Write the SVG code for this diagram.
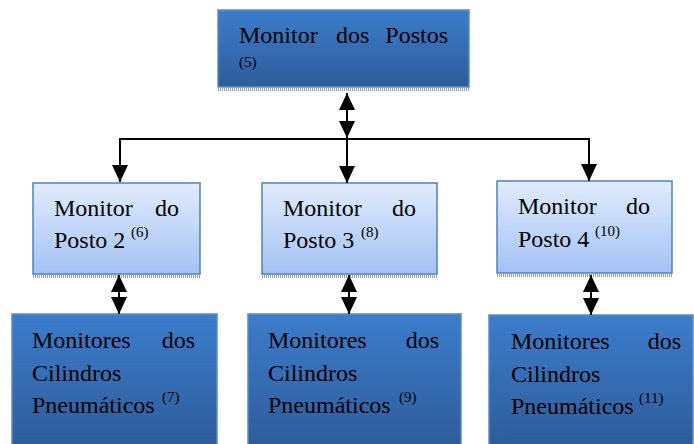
<svg xmlns="http://www.w3.org/2000/svg" width="694" height="444" viewBox="0 0 694 444" font-family="'Liberation Serif', 'DejaVu Serif', serif">
<defs>
<linearGradient id="dark" x1="0" y1="0" x2="0" y2="1">
<stop offset="0" stop-color="#3C7DCC"/>
<stop offset="1" stop-color="#2E5C9A"/>
</linearGradient>
<linearGradient id="light" x1="0" y1="0" x2="0" y2="1">
<stop offset="0" stop-color="#E1ECFD"/>
<stop offset="1" stop-color="#A3C2F4"/>
</linearGradient>
<marker id="ah" markerUnits="userSpaceOnUse" markerWidth="17" markerHeight="16" refX="17" refY="8" orient="auto-start-reverse" viewBox="0 0 17 16">
<path d="M0,0 L17,8 L0,16 z" fill="#000"/>
</marker>
</defs>
<style>
.dk{fill:url(#dark);stroke:#5A8CCB;stroke-width:1.5}
.lt{fill:url(#light);stroke:#4F81BD;stroke-width:1.5}
.sh{stroke:#A0A0A0;stroke-width:3;stroke-dasharray:1 1}
.t{font-family:'Liberation Serif','DejaVu Serif',serif;font-size:24px;fill:#000}
.sup{font-family:'Liberation Serif','DejaVu Serif',serif;font-size:15px;fill:#000}
.c{fill:none;stroke:#000;stroke-width:2}
.d{marker-start:url(#ah);marker-end:url(#ah)}
.e{marker-end:url(#ah)}
</style>
<g id="n5">
<line class="sh" x1="218" y1="89.5" x2="469" y2="89.5"/>
<rect class="dk" x="218" y="10" width="251" height="77"/>
<text class="t" x="239" y="43">Monitor</text>
<text class="t" x="336" y="43">dos</text>
<text class="t" x="448" y="43" text-anchor="end">Postos</text>
<text class="sup" x="239" y="67">(5)</text>
</g>
<g id="n6">
<line class="sh" x1="33" y1="276.5" x2="200" y2="276.5"/>
<rect class="lt" x="33" y="183" width="167" height="91"/>
<text class="t" x="54" y="216">Monitor</text>
<text class="t" x="179" y="216" text-anchor="end">do</text>
<text class="t" x="54" y="248">Posto 2</text>
<text class="sup" x="131" y="237">(6)</text>
</g>
<g id="n8">
<line class="sh" x1="262" y1="276.5" x2="437" y2="276.5"/>
<rect class="lt" x="262" y="183" width="175" height="91"/>
<text class="t" x="283" y="216">Monitor</text>
<text class="t" x="416" y="216" text-anchor="end">do</text>
<text class="t" x="283" y="248">Posto 3</text>
<text class="sup" x="361" y="237">(8)</text>
</g>
<g id="n10">
<line class="sh" x1="497" y1="275.5" x2="672" y2="275.5"/>
<rect class="lt" x="497" y="181" width="175" height="92"/>
<text class="t" x="518" y="214">Monitor</text>
<text class="t" x="650" y="214" text-anchor="end">do</text>
<text class="t" x="518" y="247">Posto 4</text>
<text class="sup" x="595" y="236">(10)</text>
</g>
<g id="n7">
<rect class="dk" x="12" y="314" width="205" height="132"/>
<text class="t" x="32" y="348">Monitores</text>
<text class="t" x="195" y="348" text-anchor="end">dos</text>
<text class="t" x="32" y="381">Cilindros</text>
<text class="t" x="32" y="413">Pneumáticos</text>
<text class="sup" x="162" y="402">(7)</text>
</g>
<g id="n9">
<rect class="dk" x="248" y="314" width="213" height="132"/>
<text class="t" x="268" y="348">Monitores</text>
<text class="t" x="439" y="348" text-anchor="end">dos</text>
<text class="t" x="268" y="381">Cilindros</text>
<text class="t" x="268" y="413">Pneumáticos</text>
<text class="sup" x="399" y="402">(9)</text>
</g>
<g id="n11">
<rect class="dk" x="489" y="315" width="204" height="131"/>
<text class="t" x="511" y="349">Monitores</text>
<text class="t" x="681" y="349" text-anchor="end">dos</text>
<text class="t" x="511" y="382">Cilindros</text>
<text class="t" x="511" y="414">Pneumáticos</text>
<text class="sup" x="639" y="403">(11)</text>
</g>
<g id="connectors">
<line class="c d" x1="347" y1="93" x2="347" y2="138"/>
<polyline class="c" points="120,181 120,139 589,139 589,181"/>
<line class="c e" x1="120" y1="139" x2="120" y2="182"/>
<line class="c e" x1="347" y1="138" x2="347" y2="183"/>
<line class="c e" x1="589" y1="139" x2="589" y2="181"/>
<line class="c d" x1="119" y1="275" x2="119" y2="314"/>
<line class="c d" x1="349" y1="275" x2="349" y2="314"/>
<line class="c d" x1="591" y1="275" x2="591" y2="315"/>
</g>
</svg>
